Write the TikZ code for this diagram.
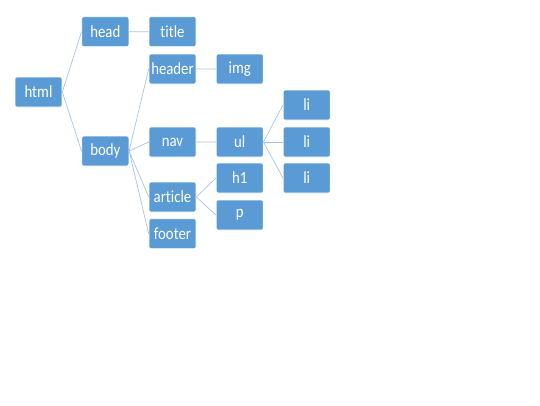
\documentclass[tikz,border=0pt]{standalone}
\usepackage{fontspec}
\setmainfont{Carlito}[Ligatures=NoCommon, FakeStretch=0.87]
\usepackage{tikz}
\definecolor{boxblue}{HTML}{5B9BD5}
\definecolor{linkblue}{HTML}{A7C4E6}
\tikzset{
  tag/.style={rectangle, rounded corners=2pt, fill=boxblue, draw=white, line width=0.6pt,
    minimum width=47pt, minimum height=30pt, inner sep=0pt, text=white,
    font=\fontsize{17}{17}\selectfont},
  link/.style={draw=linkblue, line width=0.7pt}
}

\begin{document}
\begin{tikzpicture}[x=1pt, y=-1pt]
  \useasboundingbox (0,0) rectangle (540,405);
  % tree nodes
  \node[tag] (html)    at (38.5, 92)   {html};
  \node[tag] (head)    at (105.3, 31.7) {head};
  \node[tag] (body)    at (105.3, 151)  {body};
  \node[tag] (title)   at (172.5, 31.7) {title};
  \node[tag] (header)  at (172.5, 69)   {header};
  \node[tag] (nav)     at (172.5, 142)  {nav};
  \node[tag] (article) at (172.5, 197)  {article};
  \node[tag] (footer)  at (172.5, 233.7) {footer};
  \node[tag] (img)     at (239.7, 69)   {img};
  \node[tag] (ul)      at (239.7, 142)  {ul};
  \node[tag] (h1)      at (239.7, 178)  {h1};
  \node[tag] (p)       at (239.7, 215)  {p};
  \node[tag] (li-1)    at (306.7, 105)  {li};
  \node[tag] (li-2)    at (306.7, 142)  {li};
  \node[tag] (li-3)    at (306.7, 178)  {li};
  % connectors
  \path[link]
  (html.east) -- (head.west)
  (html.east) -- (body.west)
  (head.east) -- (title.west)
  (body.east) -- (header.west)
  (body.east) -- (nav.west)
  (body.east) -- (article.west)
  (body.east) -- (footer.west)
  (header.east) -- (img.west)
  (nav.east) -- (ul.west)
  (article.east) -- (h1.west)
  (article.east) -- (p.west)
  ;
  \foreach \i in {1,2,3}
    \path[link] (ul.east) -- (li-\i.west);
\end{tikzpicture}
\end{document}
